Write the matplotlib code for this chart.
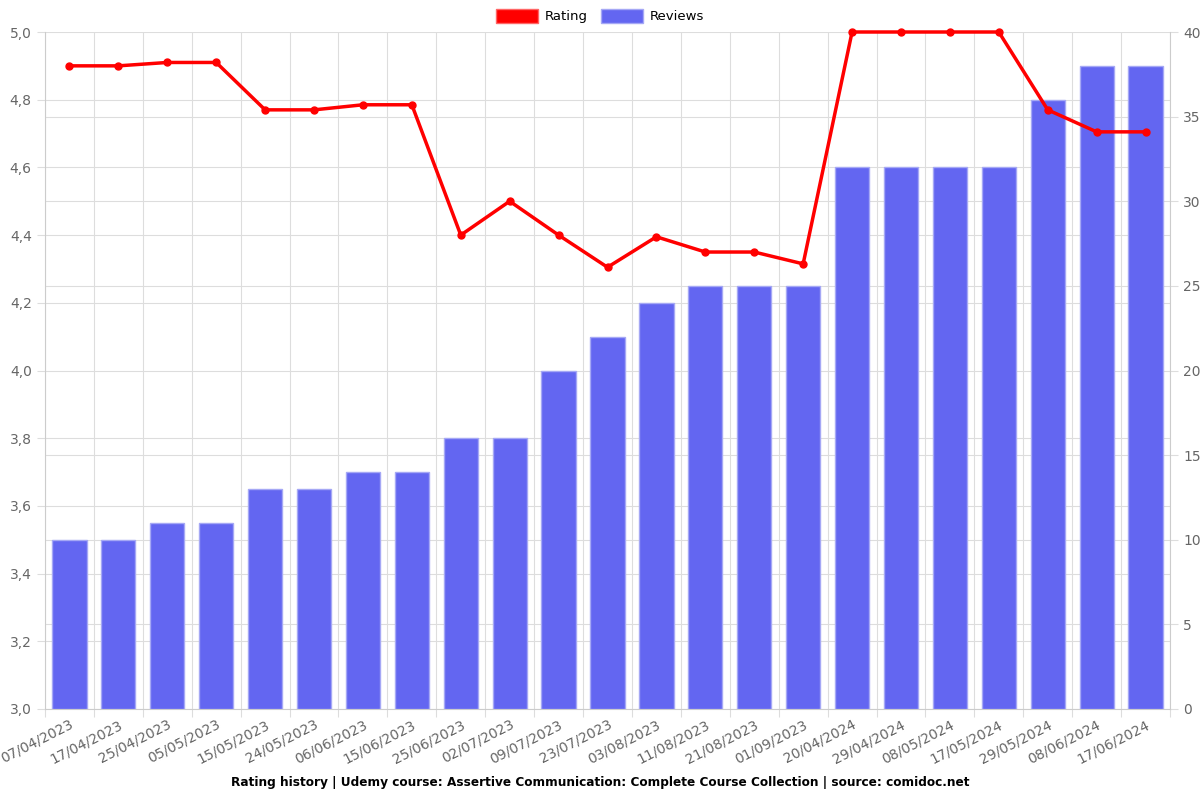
import matplotlib.pyplot as plt
import matplotlib.patches as mpatches
from matplotlib.ticker import FuncFormatter, MultipleLocator

# Données
dates = ["07/04/2023", "17/04/2023", "25/04/2023", "05/05/2023", "15/05/2023",
         "24/05/2023", "06/06/2023", "15/06/2023", "25/06/2023", "02/07/2023",
         "09/07/2023", "23/07/2023", "03/08/2023", "11/08/2023", "21/08/2023",
         "01/09/2023", "20/04/2024", "29/04/2024", "08/05/2024", "17/05/2024",
         "29/05/2024", "08/06/2024", "17/06/2024"]

reviews = [10, 10, 11, 11, 13, 13, 14, 14, 16, 16, 20, 22, 24, 25, 25, 25,
           32, 32, 32, 32, 36, 38, 38]

rating = [4.90, 4.90, 4.91, 4.91, 4.77, 4.77, 4.785, 4.785, 4.40, 4.50, 4.40,
          4.305, 4.395, 4.35, 4.35, 4.315, 5.0, 5.0, 5.0, 5.0, 4.77, 4.705, 4.705]

gris = "#666666"
grille = "#dddddd"
x = list(range(len(dates)))

fig = plt.figure(figsize=(12, 8), dpi=100)
ax1 = fig.add_axes([0.0375, 0.11375, 0.9375, 0.84625])   # barres (dessous)
ax2 = ax1.twinx()                                          # note (dessus)

# Barres : axe de droite
ax1.bar(x, reviews, width=0.7, color="#6366f1", edgecolor="#a5a8f5",
        linewidth=1, zorder=3)
ax1.set_ylim(0, 40)
ax1.yaxis.set_major_locator(MultipleLocator(5))
ax1.yaxis.set_minor_locator(MultipleLocator(4))   # = pas de 0,2 sur la note
ax1.yaxis.tick_right()
ax1.tick_params(axis='y', which='major', colors=gris, labelsize=10, length=6)
ax1.tick_params(axis='y', which='major', color=grille)
ax1.tick_params(axis='y', which='minor', length=0)
ax1.grid(axis='y', which='both', color=grille, linewidth=0.8, zorder=0)
ax1.set_axisbelow(True)

# Grille verticale entre les catégories
ax1.set_xlim(-0.5, len(dates) - 0.5)
ax1.set_xticks([i - 0.5 for i in range(len(dates) + 1)])
ax1.set_xticklabels([])
ax1.set_xticks(x, minor=True)
ax1.set_xticklabels(dates, minor=True, rotation=27, ha='right',
                    rotation_mode='anchor', color=gris, fontsize=10)
ax1.tick_params(axis='x', which='minor', length=0, pad=6)
ax1.tick_params(axis='x', which='major', length=6, color=grille)
ax1.grid(axis='x', which='major', color=grille, linewidth=0.8)

# Courbe de la note : axe de gauche
ax2.plot(x, rating, color="#ff0000", linewidth=2.5, marker='o',
         markersize=5, clip_on=False, zorder=5)
ax2.set_ylim(3.0, 5.0)
ax2.yaxis.set_major_locator(MultipleLocator(0.2))
ax2.yaxis.set_major_formatter(FuncFormatter(lambda v, p: f"{v:.1f}".replace('.', ',')))
ax2.yaxis.tick_left()
ax2.tick_params(axis='y', colors=gris, labelsize=10, length=6)
ax2.tick_params(axis='y', color=grille)

for ax in (ax1, ax2):
    for s in ax.spines.values():
        s.set_visible(False)
ax2.spines['left'].set_visible(True)
ax2.spines['left'].set_color("#cccccc")
ax1.spines['bottom'].set_visible(True)
ax1.spines['bottom'].set_color("#cccccc")
ax1.spines['right'].set_visible(True)
ax1.spines['right'].set_color("#cccccc")

# Légende en haut
handles = [mpatches.Patch(facecolor="#ff0000", edgecolor="#ff6666", label="Rating"),
           mpatches.Patch(facecolor="#6366f1", edgecolor="#a5a8f5", label="Reviews")]
fig.legend(handles=handles, loc='center', bbox_to_anchor=(0.5, 0.98), ncol=2,
           frameon=False, fontsize=9.5, handlelength=3.2, handleheight=1.3,
           columnspacing=1.0, handletextpad=0.5)

fig.text(0.5, 0.022, "Rating history | Udemy course: Assertive Communication: Complete Course Collection | source: comidoc.net",
         ha='center', va='center', fontsize=8.7, fontweight='bold')

plt.savefig("out.png", dpi=100)
